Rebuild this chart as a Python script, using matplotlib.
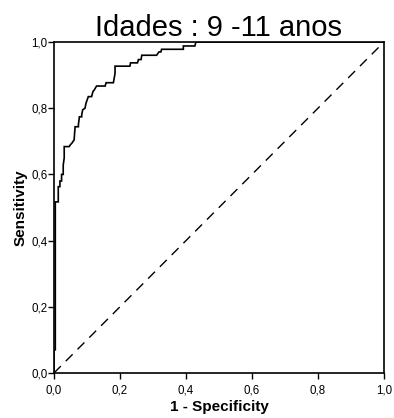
import matplotlib
matplotlib.use("Agg")
import matplotlib.pyplot as plt
from matplotlib.ticker import FuncFormatter

plt.rcParams['font.family'] = ['Liberation Sans', 'DejaVu Sans']

title = "Idades : 9 -11 anos"
x_label = "1 - Specificity"
y_label = "Sensitivity"
ticks = [0.0, 0.2, 0.4, 0.6, 0.8, 1.0]

fpr = [0.0, 0.0, 0.004, 0.004, 0.013, 0.013, 0.018, 0.018, 0.023, 0.023, 0.028, 0.028,
       0.031, 0.031, 0.046, 0.050, 0.054, 0.058, 0.061, 0.064, 0.074, 0.074, 0.077,
       0.084, 0.084, 0.087, 0.094, 0.097, 0.104, 0.114, 0.118, 0.122, 0.129,
       0.155, 0.158, 0.180, 0.185, 0.185, 0.230, 0.232, 0.253, 0.256, 0.264, 0.266,
       0.311, 0.318, 0.324, 0.326, 0.392, 0.392, 0.427, 0.430, 1.0]
tpr = [0.0, 0.07, 0.07, 0.517, 0.517, 0.563, 0.563, 0.580, 0.580, 0.600, 0.600, 0.628,
       0.650, 0.684, 0.684, 0.690, 0.694, 0.700, 0.704, 0.744, 0.744, 0.750, 0.774,
       0.774, 0.780, 0.795, 0.800, 0.815, 0.835, 0.835, 0.850, 0.855, 0.867,
       0.867, 0.877, 0.877, 0.905, 0.927, 0.927, 0.937, 0.937, 0.947, 0.947, 0.960,
       0.960, 0.970, 0.970, 0.978, 0.978, 0.988, 0.988, 1.0, 1.0]

ref_x = [0.0, 1.0]
ref_y = [0.0, 1.0]

fig = plt.figure(figsize=(3.94, 4.18), dpi=100)
ax = fig.add_axes([0.137, 0.1077, 0.8376, 0.7918])

ax.plot(ref_x, ref_y, color='black', lw=1.0, dashes=(7, 5))
ax.plot(fpr, tpr, color='black', lw=1.2, solid_joinstyle='miter')

ax.set_xlim(0, 1)
ax.set_ylim(0, 1)
ax.set_xticks(ticks)
ax.set_yticks(ticks)
fmt = FuncFormatter(lambda v, p: f"{v:.1f}".replace('.', ','))
ax.xaxis.set_major_formatter(fmt)
ax.yaxis.set_major_formatter(fmt)
ax.tick_params(direction='out', length=4, width=1, labelsize=8.3)
ax.tick_params(axis='x', pad=4.5)
ax.tick_params(axis='y', pad=0.5)
for s in ax.spines.values():
    s.set_linewidth(1.2)

ax.set_xlabel(x_label, fontsize=11, fontweight='bold', labelpad=2)
ax.set_ylabel(y_label, fontsize=11, fontweight='bold', labelpad=3)
ax.set_title(title, fontsize=21, pad=1)

fig.savefig("out.png", dpi=100)
